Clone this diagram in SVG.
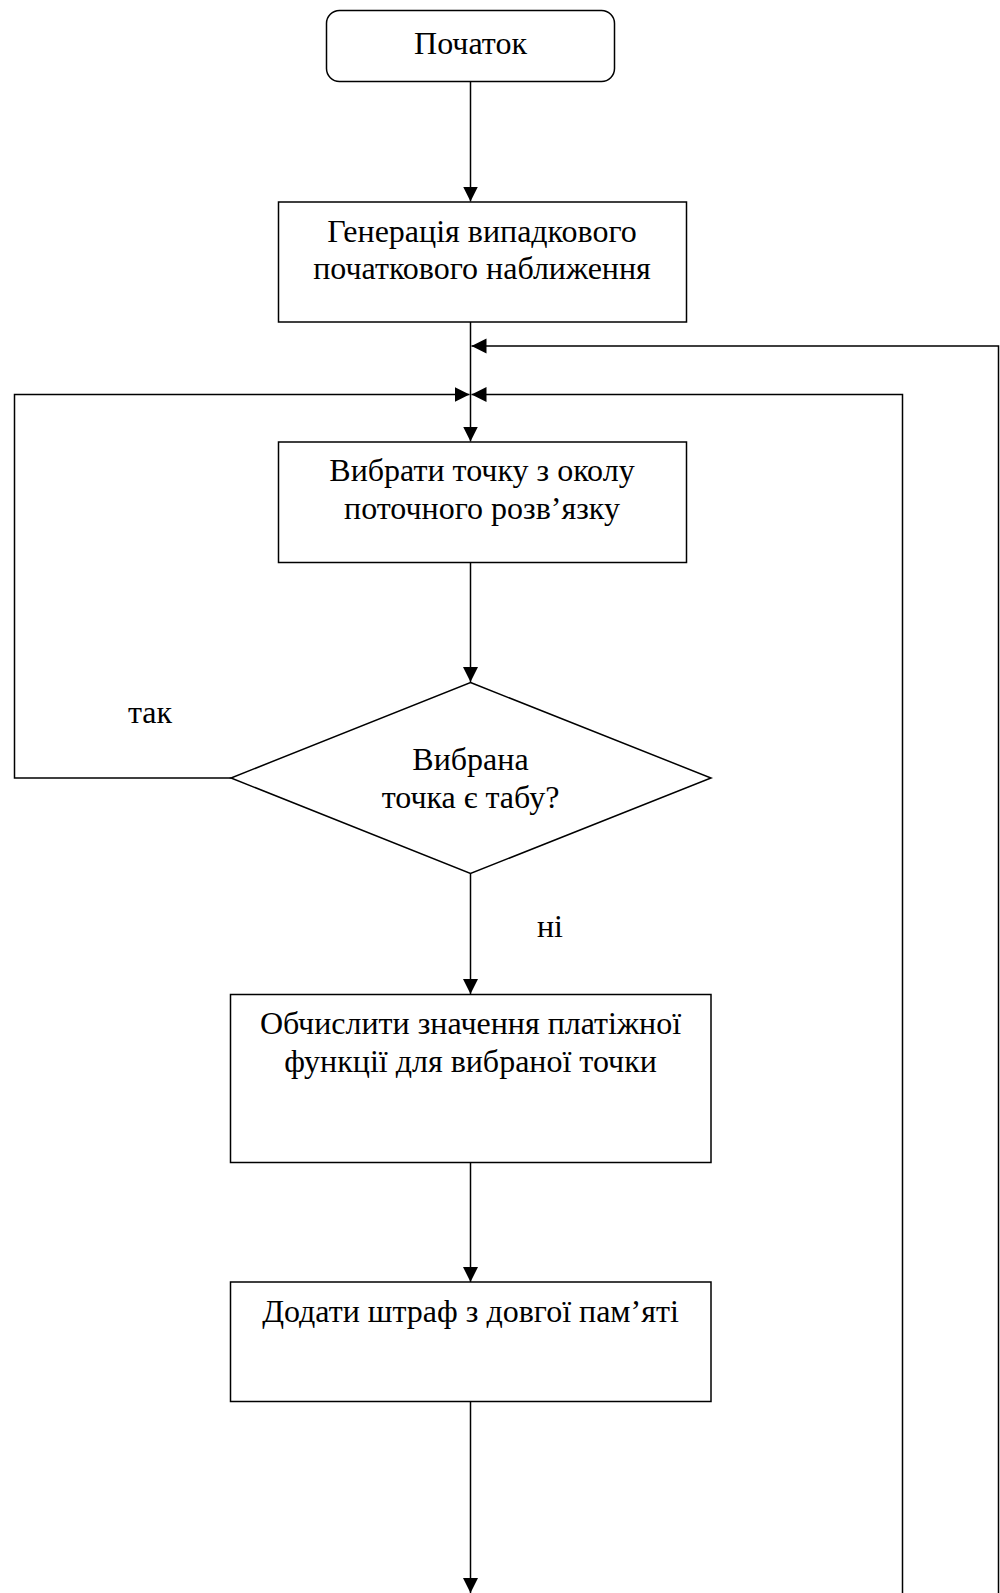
<svg xmlns="http://www.w3.org/2000/svg" width="1000" height="1593" viewBox="0 0 1000 1593">
<style>
.shape{fill:#fff;stroke:#000;stroke-width:1.5}
.line{fill:none;stroke:#000;stroke-width:1.5}
.t{font-family:"Liberation Serif","Times New Roman",serif;font-size:32px;fill:#000;text-anchor:middle}
</style>
<defs>
<marker id="arr" markerUnits="userSpaceOnUse" markerWidth="16" markerHeight="16" viewBox="0 0 16 16" refX="15" refY="8" orient="auto">
<path d="M0,0.5 L15,8 L0,15.5 Z" fill="#000"/>
</marker>
</defs>
<rect width="1000" height="1593" fill="#fff"/>
<g id="connectors">
<line class="line" x1="470.5" y1="82" x2="470.5" y2="201.5" marker-end="url(#arr)"/>
<line class="line" x1="470.5" y1="322" x2="470.5" y2="441.5" marker-end="url(#arr)"/>
<polyline class="line" points="998.5,1593 998.5,346 471.5,346" marker-end="url(#arr)"/>
<polyline class="line" points="902.5,1593 902.5,394.5 471.5,394.5" marker-end="url(#arr)"/>
<polyline class="line" points="231,778 14.5,778 14.5,394.5 469.5,394.5" marker-end="url(#arr)"/>
<line class="line" x1="470.5" y1="562.5" x2="470.5" y2="682" marker-end="url(#arr)"/>
<line class="line" x1="470.5" y1="873.5" x2="470.5" y2="994" marker-end="url(#arr)"/>
<line class="line" x1="470.5" y1="1162.5" x2="470.5" y2="1282" marker-end="url(#arr)"/>
<line class="line" x1="470.5" y1="1401.5" x2="470.5" y2="1593" marker-end="url(#arr)"/>
<text class="t" x="150" y="723">так</text>
<text class="t" x="550" y="937">ні</text>
</g>
<g id="start">
<rect class="shape" x="326.5" y="10.5" width="288" height="71" rx="13" ry="13"/>
<text class="t" x="470.5" y="54">Початок</text>
</g>
<g id="generate">
<rect class="shape" x="278.5" y="202" width="408" height="120"/>
<text class="t" x="482" y="242">Генерація випадкового</text>
<text class="t" x="482" y="279">початкового наближення</text>
</g>
<g id="select">
<rect class="shape" x="278.5" y="442" width="408" height="120.5"/>
<text class="t" x="482" y="481">Вибрати точку з околу</text>
<text class="t" x="482" y="519">поточного розв’язку</text>
</g>
<g id="tabu">
<polygon class="shape" points="470.5,682.5 711,778 470.5,873.5 231,778"/>
<text class="t" x="470.5" y="770">Вибрана</text>
<text class="t" x="470.5" y="808">точка є табу?</text>
</g>
<g id="evaluate">
<rect class="shape" x="230.5" y="994.5" width="480.5" height="168"/>
<text class="t" x="470.5" y="1034">Обчислити значення платіжної</text>
<text class="t" x="470.5" y="1072">функції для вибраної точки</text>
</g>
<g id="penalty">
<rect class="shape" x="230.5" y="1282" width="480.5" height="119.5"/>
<text class="t" x="470.5" y="1322">Додати штраф з довгої пам’яті</text>
</g>
</svg>
